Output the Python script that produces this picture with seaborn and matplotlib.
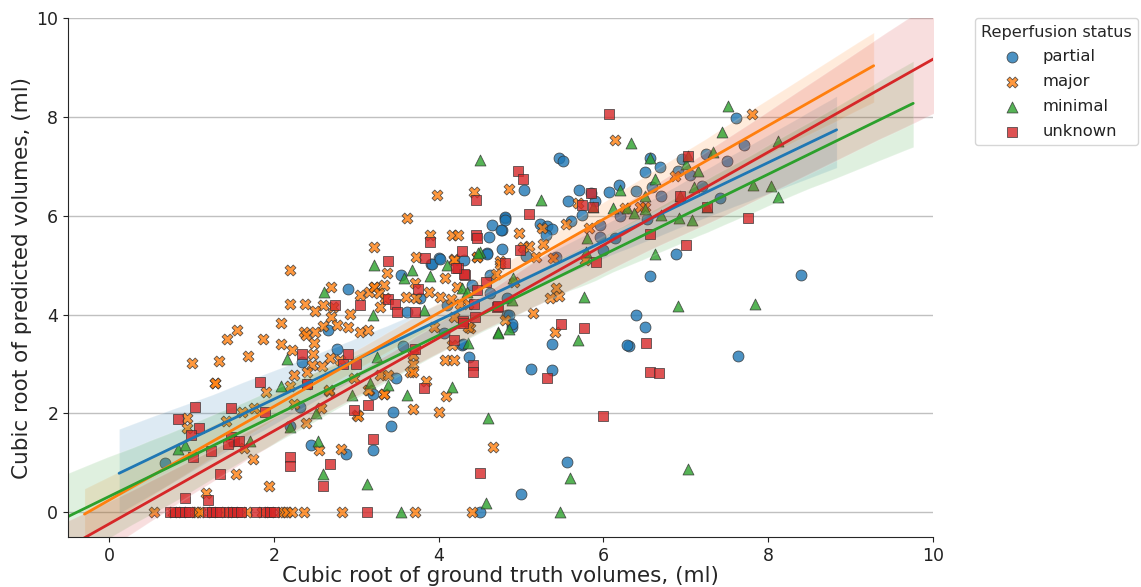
import numpy as np
import pandas as pd
import matplotlib
matplotlib.use("Agg")
import matplotlib.pyplot as plt
import seaborn as sns

# ---------------- data ----------------
statuses = ["partial", "major", "minimal", "unknown"]

partial_x = [7.61, 7.71, 7.41, 6.50, 6.69, 6.59, 7.05, 6.19, 6.07, 6.53, 6.88, 6.57, 8.40,
             5.46, 5.51, 5.04, 5.70, 5.57, 5.74, 4.81, 5.23, 5.32, 5.38, 4.77, 4.77, 5.06,
             5.42, 5.96, 5.96, 6.14, 4.81, 4.81, 4.65, 4.76, 4.61, 4.59, 4.00, 3.91, 4.59,
             4.31, 3.92, 4.01, 3.54, 4.62, 4.83, 4.89, 2.90, 3.77, 3.61, 4.83, 4.62, 4.85,
             4.89, 4.28, 4.37, 3.57, 2.66, 2.76, 2.34, 3.48, 3.20, 3.44, 3.42, 3.20, 2.88,
             2.45, 2.32, 0.68, 5.12, 5.38, 5.56, 5.00, 4.50, 6.40, 6.51, 6.31, 7.63, 5.37,
             6.29, 4.29, 4.06,
             # partly hidden under later markers
             5.60, 5.90, 6.20, 6.40, 6.70, 6.90, 7.20, 7.50, 6.00, 5.30, 4.40, 4.10, 1.50, 2.20,
             7.25, 6.95, 5.85, 6.56]
partial_y = [7.98, 7.43, 6.35, 6.88, 6.98, 6.59, 6.83, 6.62, 6.48, 5.93, 5.22, 4.79, 4.81,
             7.16, 7.11, 6.53, 6.52, 6.30, 6.01, 5.96, 5.84, 5.80, 5.73, 5.71, 5.32, 5.19,
             5.17, 5.81, 5.57, 5.55, 5.98, 5.91, 5.81, 5.71, 5.57, 5.24, 5.14, 5.03, 5.22,
             5.10, 5.03, 5.12, 4.80, 4.80, 3.99, 3.75, 4.51, 4.33, 4.05, 4.34, 4.43, 4.00,
             3.81, 3.38, 3.15, 3.36, 3.68, 3.31, 3.04, 2.72, 2.40, 2.02, 1.75, 1.27, 1.17,
             1.36, 2.13, 1.00, 2.89, 2.87, 1.01, 0.37, 0.00, 3.99, 3.75, 3.37, 3.16, 3.40,
             3.38, 3.40, 3.63,
             5.90, 6.30, 6.00, 6.50, 6.40, 6.90, 6.60, 7.10, 5.30, 5.60, 4.60, 4.20, 1.45, 1.75,
             7.25, 7.15, 6.46, 7.16]

major_x = [7.80, 6.14, 6.87, 4.85, 5.69, 5.54, 5.25, 4.98, 5.27, 5.10, 5.02, 5.18, 5.39,
           5.78, 5.83, 6.26, 6.44, 6.51, 3.98, 4.43, 3.62, 3.90, 4.16, 4.24, 3.73, 4.18,
           4.46, 4.74, 3.22, 4.18, 4.46, 4.75, 4.70, 4.91, 4.81, 2.20, 3.37, 4.08, 3.34,
           3.22, 2.69, 3.05, 3.15, 3.21, 3.27, 3.35, 3.29, 3.60, 3.72, 3.71, 4.02, 3.88,
           4.15, 4.26, 4.36, 4.22, 4.18, 3.94, 4.16, 4.38, 4.08, 4.18, 3.69, 3.65, 3.69,
           3.29, 3.39, 3.69, 3.85, 4.09, 3.33, 3.69, 4.00, 4.66, 3.15, 3.33, 3.01, 2.72,
           2.60, 2.50, 2.38, 2.19, 2.08, 2.69, 2.60, 2.76, 2.92, 2.90, 3.05, 3.14, 2.50,
           2.36, 2.39, 2.49, 2.47, 2.22, 2.24, 2.08, 1.87, 1.55, 1.43, 1.69, 1.33, 1.01,
           1.29, 2.46, 2.58, 2.68, 2.80, 2.97, 2.67, 2.40, 2.20, 1.28, 1.90, 1.61, 1.76,
           0.95, 0.95, 1.42, 1.64, 1.75, 1.54, 1.94, 1.17, 2.40, 2.67, 2.24, 2.57, 2.39,
           3.02, 3.14, 2.55, 2.81, 5.14, 5.42, 5.35, 5.46, 5.41, 4.36,
           0.54, 1.04, 1.07, 1.10, 1.40, 1.67, 2.08, 2.12, 2.16, 2.22, 2.36, 2.82, 3.71, 4.40,
           # partly hidden under the red squares of the zero row
           0.78, 0.88, 1.25, 1.52, 1.85, 1.95]
major_y = [8.06, 7.54, 6.80, 6.54, 6.25, 5.83, 5.76, 5.66, 5.43, 5.38, 5.37, 5.17, 5.14,
           5.10, 5.75, 6.15, 6.17, 6.18, 6.42, 6.47, 5.96, 5.60, 5.62, 5.61, 5.17, 5.12,
           5.16, 5.09, 5.37, 5.10, 5.17, 5.03, 4.82, 4.66, 3.89, 4.90, 4.84, 4.73, 4.60,
           4.56, 4.56, 4.39, 4.46, 4.56, 4.43, 4.33, 4.16, 4.36, 4.33, 4.63, 4.36, 4.45,
           4.31, 4.22, 4.22, 4.56, 3.96, 3.75, 3.38, 3.72, 3.08, 3.09, 3.01, 2.84, 3.19,
           2.77, 2.77, 2.84, 2.65, 2.35, 2.40, 2.09, 2.03, 1.32, 2.48, 2.39, 1.96, 4.16,
           4.19, 4.08, 4.22, 4.22, 3.82, 3.96, 3.77, 3.79, 4.02, 3.74, 3.65, 3.68, 3.64,
           3.65, 3.58, 3.43, 3.21, 3.29, 2.77, 3.40, 3.50, 3.68, 3.50, 3.16, 3.06, 3.02,
           2.62, 2.98, 2.95, 3.13, 3.08, 2.71, 2.45, 2.60, 2.55, 2.62, 2.44, 2.03, 2.10,
           1.91, 1.71, 1.85, 1.30, 1.07, 0.78, 0.53, 0.39, 2.84, 2.47, 2.19, 2.10, 1.81,
           1.94, 2.48, 1.26, 1.28, 4.04, 4.53, 4.33, 4.38, 3.64, 3.74,
           0.00, 0.00, 0.00, 0.00, 0.00, 0.00, 0.00, 0.00, 0.00, 0.00, 0.00, 0.00, 0.00, 0.00,
           0.00, 0.00, 0.00, 0.00, 0.00, 0.00]

minimal_x = [7.51, 7.44, 7.33, 8.12, 7.15, 7.10, 7.81, 8.03, 8.12, 6.92, 7.07, 6.57, 6.62,
             6.33, 6.20, 6.11, 6.29, 6.37, 6.50, 6.70, 6.63, 5.80, 5.79, 5.24, 4.50, 4.50,
             3.22, 3.67, 3.58, 3.90, 4.10, 4.48, 4.28, 4.34, 3.82, 3.20, 4.85, 4.72, 4.90,
             4.89, 4.72, 5.76, 5.69, 4.36, 2.61, 2.16, 3.25, 3.38, 3.62, 4.16, 2.95, 3.16,
             2.09, 2.51, 2.19, 2.54, 1.71, 0.83, 0.92, 2.60, 3.13, 4.60, 5.59, 4.58, 3.54,
             5.47, 6.91, 7.84, 7.03,
             # partly hidden under red squares
             7.00, 6.50, 7.02, 5.87, 6.93, 7.26]
minimal_y = [8.22, 7.70, 7.29, 7.51, 6.90, 6.59, 6.62, 6.61, 6.38, 5.96, 5.91, 7.16, 6.75,
             7.48, 6.52, 6.16, 6.16, 6.06, 6.13, 6.02, 5.23, 5.55, 5.27, 6.32, 7.12, 5.27,
             5.00, 4.90, 4.73, 4.78, 5.00, 5.24, 4.53, 4.46, 4.09, 3.99, 3.70, 3.65, 4.74,
             4.29, 3.63, 4.35, 3.48, 3.42, 4.46, 3.11, 3.15, 2.57, 2.38, 2.54, 2.37, 2.61,
             2.56, 2.00, 1.73, 1.44, 1.44, 1.28, 1.36, 0.78, 0.58, 1.90, 0.69, 0.18, 0.00,
             0.00, 4.17, 4.22, 0.88,
             7.05, 6.40, 7.21, 6.17, 6.39, 6.17]

unknown_x = [6.07, 7.02, 6.93, 7.26, 7.76, 6.56, 7.00, 6.52, 6.56, 6.67, 5.99, 4.96, 5.02,
             5.85, 5.74, 5.87, 5.10, 4.99, 4.81, 5.91, 4.45, 3.90, 4.45, 4.47, 3.83, 3.38,
             4.28, 4.23, 4.32, 4.58, 4.71, 4.44, 4.43, 4.30, 4.18, 4.42, 4.42, 3.38, 3.47,
             3.05, 2.74, 3.49, 3.75, 3.71, 4.31, 4.21, 4.47, 4.72, 4.29, 3.71, 5.48, 5.76,
             5.32, 3.82, 3.20, 4.50, 2.34, 2.84, 2.90, 3.00, 3.14, 2.97, 1.83, 2.40, 1.04,
             1.48, 1.89, 0.83, 1.09, 0.99, 1.48, 1.51, 1.57, 1.44, 1.23, 1.02, 1.35, 0.92,
             1.20, 2.20, 2.19, 2.68, 2.60,
             0.74, 0.80, 0.86, 0.92, 0.97, 1.20, 1.25, 1.30, 1.35, 1.45, 1.50, 1.55, 1.60,
             1.78, 1.90, 1.95, 2.00, 3.13]
unknown_y = [8.06, 7.21, 6.39, 6.17, 5.96, 5.64, 5.41, 3.43, 2.83, 2.81, 1.94, 6.91, 6.75,
             6.46, 6.21, 6.17, 6.04, 5.30, 5.04, 5.06, 6.32, 5.47, 5.60, 5.54, 5.14, 5.08,
             5.28, 4.95, 4.80, 4.66, 4.16, 3.96, 4.22, 3.86, 3.48, 2.98, 2.84, 4.31, 4.22,
             4.19, 4.19, 4.05, 4.51, 4.05, 4.82, 4.95, 4.49, 4.17, 3.83, 3.30, 3.80, 3.73,
             2.72, 2.52, 1.48, 0.80, 3.20, 3.01, 3.21, 3.01, 2.17, 2.06, 2.64, 2.60, 2.13,
             2.10, 2.03, 1.88, 1.71, 1.56, 1.52, 1.44, 1.44, 1.38, 1.23, 1.12, 0.78, 0.29,
             0.24, 1.12, 0.93, 0.97, 0.53,
             0.00, 0.00, 0.00, 0.00, 0.00, 0.00, 0.00, 0.00, 0.00, 0.00, 0.00, 0.00, 0.00,
             0.00, 0.00, 0.00, 0.00, 0.00]

# x extent over which each fit is drawn (the axis range at the time of each fit)
fit_ranges = [(0.12, 8.83), (-0.3, 9.28), (-0.55, 9.76), (-0.6, 10.1)]

xs = [partial_x, major_x, minimal_x, unknown_x]
ys = [partial_y, major_y, minimal_y, unknown_y]

frames = [pd.DataFrame({"gt": x, "pred": y, "status": s}) for x, y, s in zip(xs, ys, statuses)]
df = pd.concat(frames, ignore_index=True)

# ---------------- styling ----------------
sns.set_style("ticks")
palette = sns.color_palette("tab10", 4)
markers = ["o", "X", "^", "s"]

fig = plt.figure(figsize=(11.41, 5.87), dpi=100)
ax = fig.add_axes([0.0596, 0.0852, 0.7581, 0.8841])

for i, s in enumerate(statuses):
    sub = df[df["status"] == s]
    ax.set_xlim(*fit_ranges[i])
    sns.regplot(data=sub, x="gt", y="pred", ax=ax, truncate=False, color=palette[i],
                marker=markers[i], label=s, seed=1,
                scatter_kws=dict(s=62, alpha=0.8, edgecolor="#333333", linewidths=0.6),
                line_kws=dict(lw=2))

ax.set_xlim(-0.5, 10)
ax.set_ylim(-0.5, 10)
ax.set_xticks([0, 2, 4, 6, 8, 10])
ax.set_yticks([0, 2, 4, 6, 8, 10])
ax.yaxis.grid(True, color="#c0c0c0", lw=1)
ax.set_axisbelow(True)
sns.despine(ax=ax)
ax.tick_params(labelsize=12.5, colors="#222222")
ax.set_xlabel("Cubic root of ground truth volumes, (ml)", fontsize=15.5, labelpad=1)
ax.set_ylabel("Cubic root of predicted volumes, (ml)", fontsize=15.5, labelpad=3)

leg = ax.legend(title="Reperfusion status", loc="upper left", bbox_to_anchor=(1.048, 1.0),
                borderaxespad=0, fontsize=11.8, title_fontsize=11.6, frameon=True,
                handletextpad=0.9, borderpad=0.4, labelspacing=0.6)
for t in leg.get_texts():
    t.set_color("#222222")

fig.savefig("out.png", dpi=100)
